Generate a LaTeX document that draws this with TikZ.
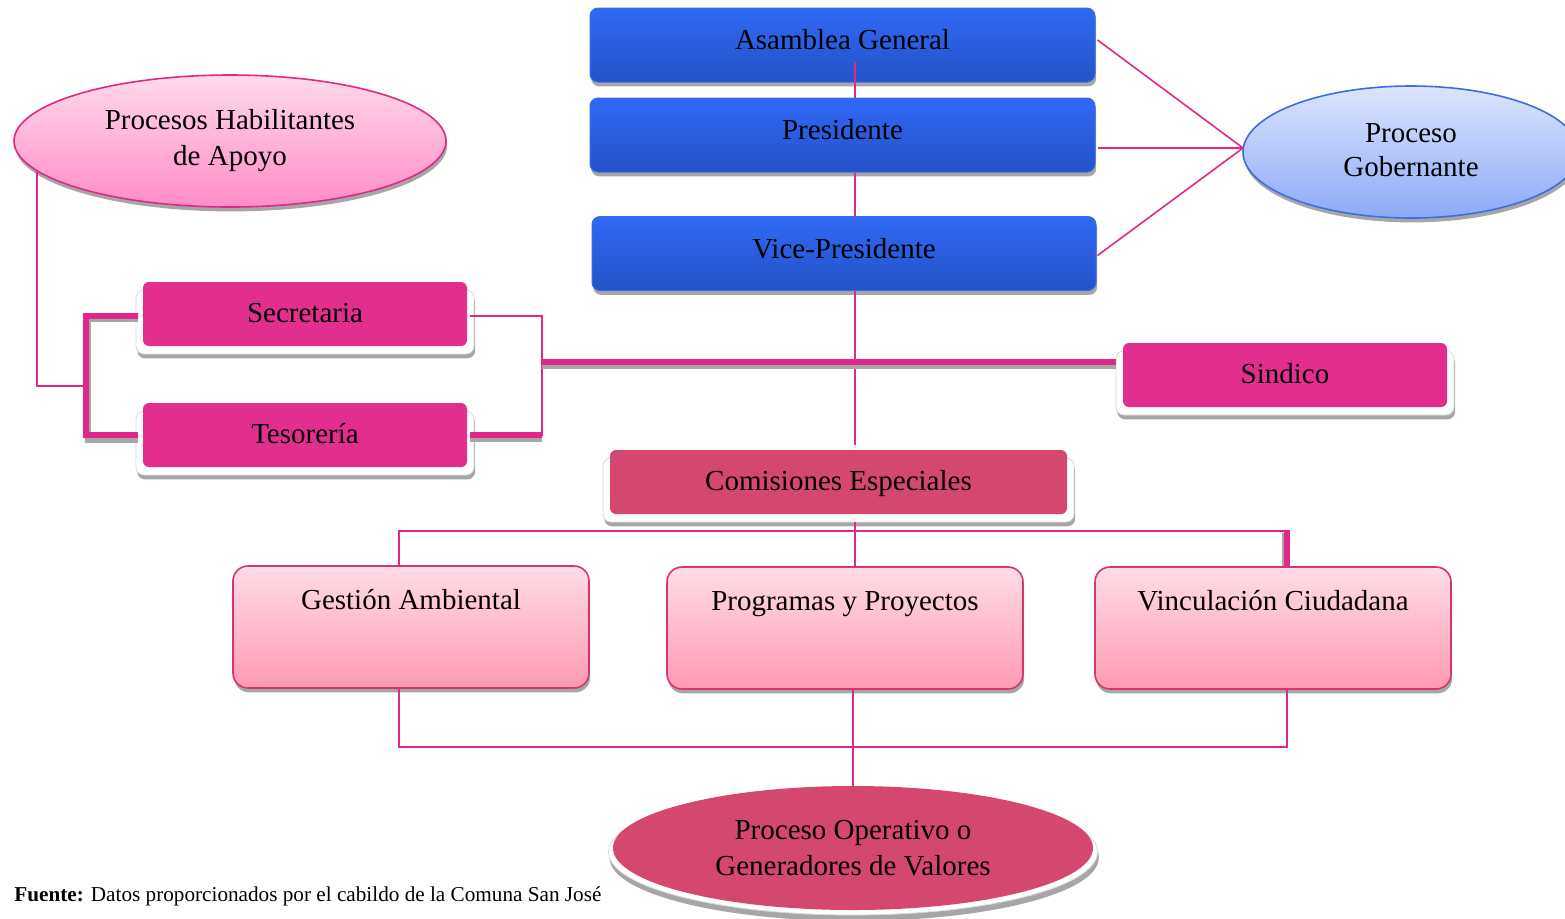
\documentclass[tikz,border=0pt]{standalone}
\usepackage{fontspec}
\setmainfont{Liberation Serif}
\usetikzlibrary{shapes.geometric,shadows,calc}
\definecolor{lnk}{HTML}{E3268A}
\definecolor{bluetop}{HTML}{3069F5}
\definecolor{bluebot}{HTML}{2452C8}
\definecolor{blueedge}{HTML}{3A6CE8}
\definecolor{mag}{HTML}{E22E8E}
\definecolor{comis}{HTML}{D4476F}
\definecolor{gtop}{HTML}{FFDCE6}
\definecolor{gbot}{HTML}{FF9AB4}
\definecolor{gedge}{HTML}{D63670}
\definecolor{htop}{HTML}{FFD9EB}
\definecolor{hbot}{HTML}{FF8CC8}
\definecolor{hedge}{HTML}{E0288A}
\definecolor{vtopc}{HTML}{DCE5FE}
\definecolor{vbotc}{HTML}{8DAAF6}
\definecolor{vedge}{HTML}{3D6DE0}
\newcommand{\mainfs}{\fontsize{14.5}{18}\selectfont}
\begin{document}
\begin{tikzpicture}[x=0.5pt,y=-0.5pt,
  shad/.style={drop shadow={shadow xshift=0.6pt, shadow yshift=-2.2pt, fill=black!35, opacity=1}},
  blueb/.style={rectangle, rounded corners=4pt, minimum width=252.5pt, minimum height=37pt,
    top color=bluetop, bottom color=bluebot, draw=blueedge, line width=0.5pt, shad,
    font=\mainfs, inner sep=0pt, text height=10pt, text depth=5.4pt},
  plate/.style={rectangle, rounded corners=4pt, minimum height=32pt, fill=white, draw=black!15,
    line width=0.4pt, shad, inner sep=0pt},
  magb/.style={rectangle, rounded corners=3pt, minimum width=162pt, minimum height=32pt,
    fill=mag, font=\mainfs, inner sep=0pt, text height=10pt, text depth=1.4pt},
  comb/.style={magb, fill=comis},
  gradb/.style={rectangle, rounded corners=7.5pt, minimum width=178pt, minimum height=61pt,
    top color=gtop, bottom color=gbot, draw=gedge, line width=0.8pt, shad,
    font=\mainfs, inner sep=0pt, text height=10pt, text depth=27.4pt},
  ell/.style={ellipse, inner sep=0pt, font=\mainfs, align=center, line width=0.8pt, shad},
  thinlink/.style={draw=lnk, line width=0.8pt},
  thicklink/.style={draw=lnk, line width=2.6pt},
  thickshad/.style={draw=black!35, line width=2.6pt}
]
\useasboundingbox (0,0) rectangle (1565,918);

% ---------- governing process ----------
\node[blueb] (asam) at (842.5,45) {Asamblea General};
\coordinate (vtop) at (855,62);
\draw[thinlink] (vtop) -- (855,100);
\node[blueb] (pres) at (842.5,135) {Presidente};
\node[blueb, minimum width=252pt] (vice) at (844,253.5) {Vice-Presidente};

\node[ell, minimum width=168pt, minimum height=66pt, top color=vtopc, bottom color=vbotc, draw=vedge]
  (gov) at (1411,152) {\raisebox{3pt}{\begin{tabular}{@{}c@{}}Proceso\\[-1pt]Gobernante\end{tabular}}};

\coordinate (gw) at (1243,148);
\draw[thinlink] ($(asam.east)+(2,-5)$) -- (gw);
\draw[thinlink] ($(pres.east)+(2,13)$) -- (gw);
\draw[thinlink] ($(vice.east)+(1,2)$) -- (gw);

% ---------- support process ----------
\node[ell, minimum width=216pt, minimum height=66pt, top color=htop, bottom color=hbot, draw=hedge]
  (hab) at (230,141) {Procesos Habilitantes\\de Apoyo};

\node[plate, minimum width=169pt] (secp) at (305,322) {};
\node[magb] (sec) at (305,314) {Secretaria};
\node[plate, minimum width=169pt] (tesp) at (305,443) {};
\node[magb] (tes) at (305,435) {Tesorería};
\node[plate, minimum width=169pt] (sinp) at (1285,383) {};
\node[magb] (sin) at (1285,375) {Sindico};

\coordinate (lb) at (86,386);
\coordinate (rb) at (542,362);

\draw[thinlink] (hab.189) |- (lb);
\draw[thickshad] ($(sec.west)+(-5,5)$) -| ($(lb)+(2,3)$) |- ($(tes.west)+(-5,5)$);
\draw[thicklink] ($(sec.west)+(-5,2)$) -| (lb) |- ($(tes.west)+(-5,0)$);

\draw[thinlink] ($(sec.east)+(3,2)$) -| (rb) |- ($(tes.east)+(3,0)$);
\draw[thickshad] ($(tes.east)+(3,4)$) -- ($(tes.east -| rb)+(0,4)$);
\draw[thicklink] ($(tes.east)+(3,0)$) -- (tes.east -| rb);

% ---------- central axis ----------
\node[plate, minimum width=235.5pt] (comp) at (838.5,490) {};
\node[comb, minimum width=228.5pt] (com) at (838.5,482) {Comisiones Especiales};

\draw[thinlink] (pres.south -| vtop) -- (vice.north -| vtop);
\draw[thinlink] (vice.south -| vtop) -- ($(com.north -| vtop)+(0,-5)$);

\draw[thickshad] ($(rb)+(0,4)$) -- ($(rb -| sinp.west)+(0,4)$);
\draw[thicklink] (rb) -- (rb -| sinp.west);

% ---------- operative process ----------
\node[gradb] (gest) at (411,627) {Gestión Ambiental};
\node[gradb] (prog) at (845,628) {Programas y Proyectos};
\node[gradb] (vinc) at (1273,628) {Vinculación Ciudadana};

\coordinate (hl) at (399,531);
\coordinate (hr) at (1287,531);
\coordinate (bl) at (399,747);
\coordinate (br) at (1287,747);

\draw[thinlink] ($(comp.south -| vtop)$) -- (prog.north -| vtop);
\draw[thinlink] (gest.north -| hl) -- (hl) -- (hr);
\draw[thickshad] ($(hr)+(-2,2)$) -- ($(vinc.north -| hr)+(-2,0)$);
\draw[thicklink] ($(hr)+(0,-1)$) -- (vinc.north -| hr);

\node[ell, minimum width=244.5pt, minimum height=63pt, fill=white, draw=black!15, line width=0.4pt,
  drop shadow={shadow xshift=0.6pt, shadow yshift=-3pt, fill=black!35, opacity=1}]
  (operp) at (853,852) {};
\node[ellipse, inner sep=0pt, minimum width=240pt, minimum height=62pt, fill=comis, font=\mainfs, align=center]
  (oper) at (853,848) {Proceso Operativo o\\Generadores de Valores};

\draw[thinlink] (gest.south -| bl) -- (bl) -- (br) -- (vinc.south -| br);
\draw[thinlink] (prog.south -| oper.north) -- (oper.north);

% ---------- source ----------
\node[anchor=base west, inner sep=0pt, font=\fontsize{10.6}{13}\selectfont] (src) at (14,901)
  {\textbf{Fuente:} Datos proporcionados por el cabildo de la Comuna San José};
\end{tikzpicture}
\end{document}
